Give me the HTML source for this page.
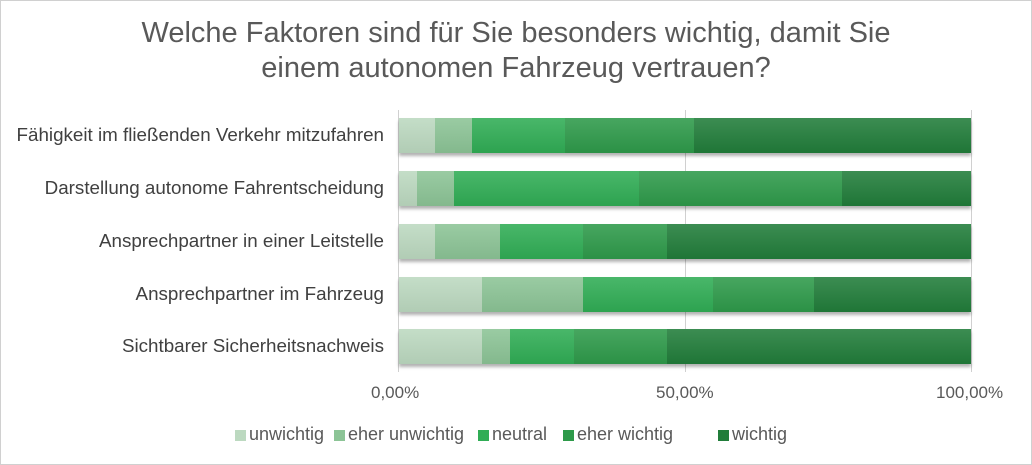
<!DOCTYPE html><html><head><style>
body{margin:0;width:1032px;height:465px;background:#fff;font-family:"Liberation Sans",sans-serif;overflow:hidden}
.frame{position:absolute;left:0;top:0;width:1030px;height:463px;border:1px solid #d0d0d0}
.t{position:absolute;left:0;width:1032px;text-align:center;font-size:29px;color:#595959}
.l{position:absolute;right:648px;font-size:18.8px;color:#404040;text-align:right;white-space:nowrap}
.g{position:absolute;top:110px;height:262px;width:1px;background:#d0d0d0}
.bar{position:absolute;height:35px;box-shadow:0 3px 3px rgba(0,0,0,0.3)}
.s{position:absolute;top:0;height:35px;background-image:linear-gradient(rgba(255,255,255,0.12),rgba(0,0,0,0.06))}
.ax{position:absolute;top:383px;font-size:17px;color:#595959}
.lg{position:absolute;top:424px;font-size:18px;color:#595959}
.sw{position:absolute;top:430px;width:11px;height:11px}
</style></head><body><div class="frame"></div>
<div class="t" style="top:17px">Welche Faktoren sind für Sie besonders wichtig, damit Sie</div>
<div class="t" style="top:52px">einem autonomen Fahrzeug vertrauen?</div>
<div class="g" style="left:398px"></div><div class="g" style="left:685px"></div><div class="g" style="left:971px"></div>
<div class="l" style="top:124px">Fähigkeit im fließenden Verkehr mitzufahren</div>
<div class="l" style="top:177px">Darstellung autonome Fahrentscheidung</div>
<div class="l" style="top:230px">Ansprechpartner in einer Leitstelle</div>
<div class="l" style="top:283px">Ansprechpartner im Fahrzeug</div>
<div class="l" style="top:335px">Sichtbarer Sicherheitsnachweis</div>
<div id="bars"></div>
<div class="ax" style="left:371px">0,00%</div>
<div class="ax" style="left:656px">50,00%</div>
<div class="ax" style="left:936px">100,00%</div>
<div class="sw" style="left:235px;background:#bcd9c0"></div><div class="lg" style="left:249px">unwichtig</div>
<div class="sw" style="left:334px;background:#8cc496"></div><div class="lg" style="left:348px">eher unwichtig</div>
<div class="sw" style="left:478px;background:#30ad55"></div><div class="lg" style="left:492px">neutral</div>
<div class="sw" style="left:563px;background:#2e9a4a"></div><div class="lg" style="left:577px">eher wichtig</div>
<div class="sw" style="left:718px;background:#217d3a"></div><div class="lg" style="left:732px">wichtig</div>
<script>
var rows=[[118,[399,435,472,565,694,971]],[171,[399,417,454,639,842,971]],[224,[399,435,500,583,667,971]],[277,[399,482,583,713,814,971]],[329,[399,482,510,574,667,971]]];
var c=["#bcd9c0","#8cc496","#30ad55","#2e9a4a","#217d3a"],h="";
rows.forEach(function(r){var x=r[1];h+='<div class="bar" style="left:399px;top:'+r[0]+'px;width:572px">';for(var i=0;i<5;i++)h+='<div class="s" style="left:'+(x[i]-399)+'px;width:'+(x[i+1]-x[i])+'px;background-color:'+c[i]+'"></div>';h+='</div>';});
document.getElementById("bars").innerHTML=h;
</script></body></html>
